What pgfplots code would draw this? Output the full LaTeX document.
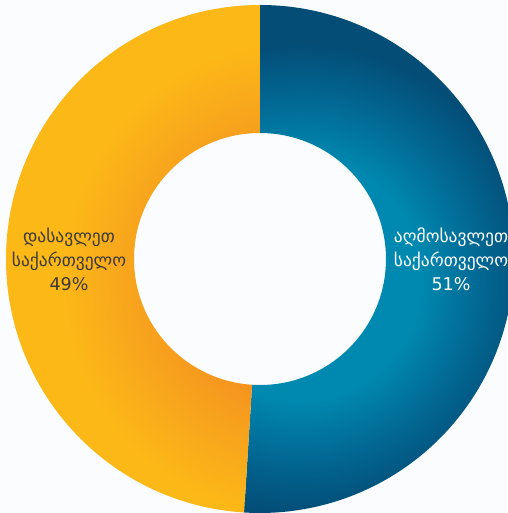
\documentclass[border=0pt]{standalone}
\usepackage{pgfplots}
\pgfplotsset{compat=1.18}
\usepackage{fontspec}
\setmainfont{DejaVu Sans}
\definecolor{bgcol}{HTML}{FBFCFD}
\definecolor{bluedark}{HTML}{034D77}
\definecolor{bluemid}{HTML}{026A95}
\definecolor{bluelight}{HTML}{0089B0}
\definecolor{orangedark}{HTML}{F5941F}
\definecolor{orangemid}{HTML}{F8A71C}
\definecolor{yellowc}{HTML}{FCB817}
\definecolor{textgray}{HTML}{3A3A3A}
% note: the shade circle radius corresponds to 25bp (R = 400pt -> 16pt per bp)
\pgfdeclareradialshading{blueshade}{\pgfpoint{0bp}{0bp}}{color(0bp)=(bluelight); color(7.5bp)=(bluelight); color(11bp)=(bluemid); color(14.7bp)=(bluedark); color(50bp)=(bluedark)}
\pgfdeclareradialshading{orangeshade}{\pgfpoint{0bp}{0bp}}{color(0bp)=(orangedark); color(7.2bp)=(orangedark); color(11.2bp)=(orangemid); color(14.8bp)=(yellowc); color(50bp)=(yellowc)}
% values (percent)
\newcommand\eastval{51}
\newcommand\westval{49}
\begin{document}
\begin{tikzpicture}
\useasboundingbox (0,0) rectangle (507pt,513pt);
\fill[bgcol] (0,0) rectangle (507pt,513pt);
\begin{axis}[scale only axis, width=507pt, height=513pt,
  xmin=-260, xmax=247, ymin=-254, ymax=259,
  axis lines=none, clip=false, at={(0,0)}, anchor=south west]
\pgfmathsetmacro\split{90-3.6*\eastval}
\pgfmathsetmacro\wend{\split-3.6*\westval}
\begin{scope}[shift={(axis cs:0,0)}]
  % east sector
  \begin{scope}
    \clip (90:254pt) arc[start angle=90, end angle=\split, radius=254pt]
      -- (\split:126pt) arc[start angle=\split, end angle=90, radius=126pt] -- cycle;
    \shade[shading=blueshade] (40pt,-20pt) circle (400pt);
  \end{scope}
  % west sector
  \begin{scope}
    \clip (\split:254pt) arc[start angle=\split, end angle=\wend, radius=254pt]
      -- (\wend:126pt) arc[start angle=\wend, end angle=\split, radius=126pt] -- cycle;
    \shade[shading=orangeshade] (40pt,-20pt) circle (400pt);
  \end{scope}
  \node[align=center, font=\fontsize{17.5}{24}\selectfont, text=white] at (191pt,0pt)
    {აღმოსავლეთ\\საქართველო\\\eastval\%};
  \node[align=center, font=\fontsize{17.5}{24}\selectfont, text=textgray] at (-191pt,0pt)
    {დასავლეთ\\საქართველო\\\westval\%};
\end{scope}
\end{axis}
\end{tikzpicture}
\end{document}
